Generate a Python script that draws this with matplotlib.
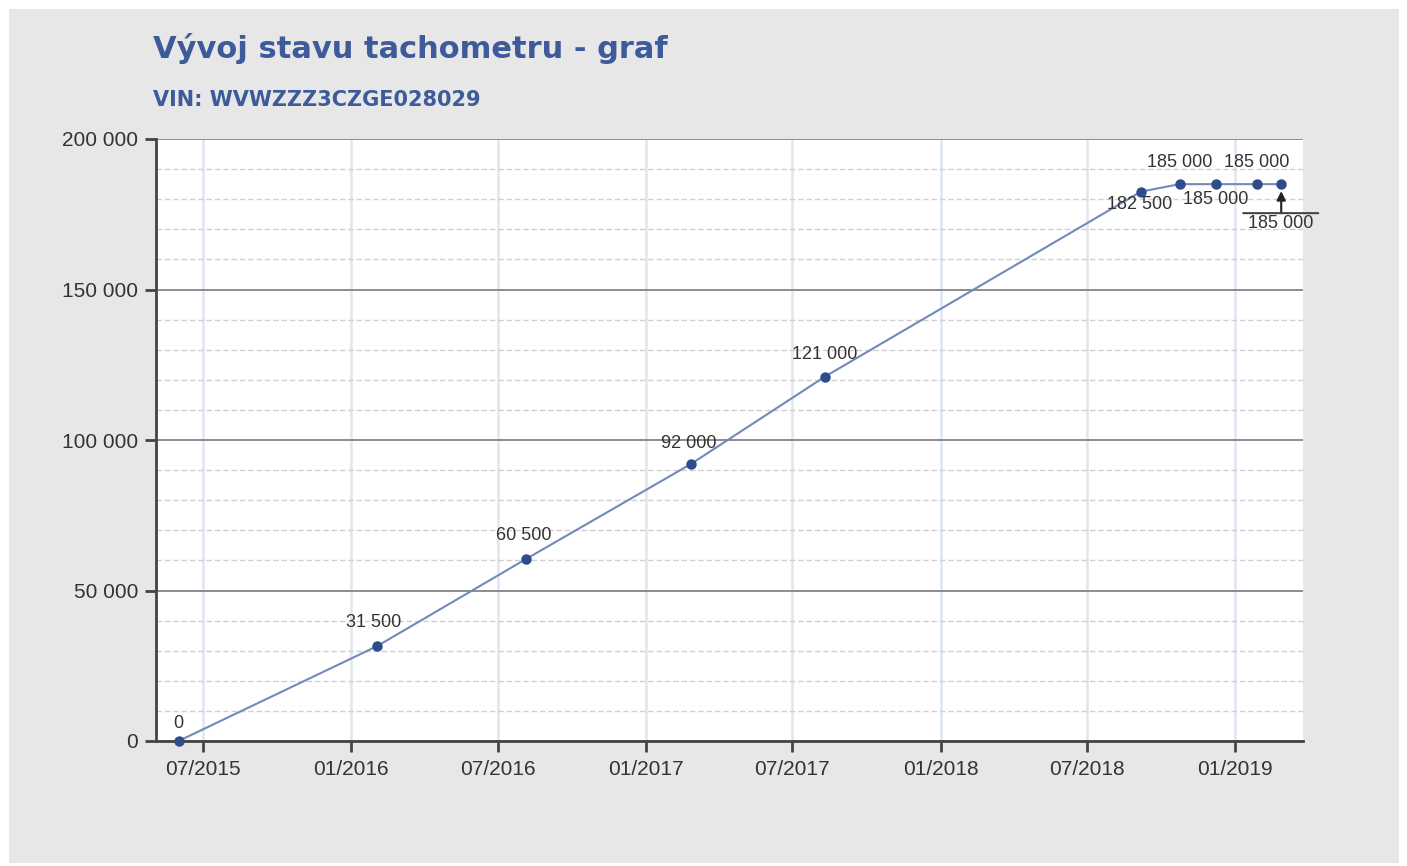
import matplotlib
matplotlib.use("Agg")
import matplotlib.pyplot as plt
import matplotlib.dates as mdates
from matplotlib.patches import Rectangle
from matplotlib.ticker import MultipleLocator, FuncFormatter
from matplotlib.transforms import ScaledTranslation
import datetime as dt

# ---- data ----
dates = ["2015-06-01", "2016-02-02", "2016-08-05", "2017-02-25", "2017-08-10",
         "2018-09-06", "2018-10-24", "2018-12-08", "2019-01-28", "2019-02-27"]
mileage = [0, 31500, 60500, 92000, 121000, 182500, 185000, 185000, 185000, 185000]
title = "Vývoj stavu tachometru - graf"
subtitle = "VIN: WVWZZZ3CZGE028029"
x_start, x_end = "2015-05-04", "2019-03-26"

# label offsets in pixels (dx, dy) relative to each point centre (layout only)
label_offsets = [(0, 17), (-3, 24), (-2, 23), (-2, 21), (0, 22),
                 (-1, -13), (0, 22), (0, -15), (0, 22), None]

def fmt(v):
    return f"{int(v):,}".replace(",", " ")

x = [dt.datetime.strptime(d, "%Y-%m-%d") for d in dates]

W, H, DPI = 1407, 866, 100
fig = plt.figure(figsize=(W / DPI, H / DPI), dpi=DPI, facecolor="white")
fig.patches.append(Rectangle((9 / W, 1 - 863 / H), 1390 / W, 854 / H,
                             transform=fig.transFigure, facecolor="#e6e7e6",
                             edgecolor="none", zorder=-10))

ax = fig.add_axes([156 / W, 1 - 741 / H, (1303 - 156) / W, (741 - 139) / H])
ax.set_facecolor("white")

ax.set_xlim(dt.datetime.strptime(x_start, "%Y-%m-%d"), dt.datetime.strptime(x_end, "%Y-%m-%d"))
ax.set_ylim(0, 200000)

ax.xaxis.set_major_locator(mdates.MonthLocator(bymonth=[1, 7]))
ax.xaxis.set_major_formatter(mdates.DateFormatter("%m/%Y"))
ax.yaxis.set_major_locator(MultipleLocator(50000))
ax.yaxis.set_minor_locator(MultipleLocator(10000))
ax.yaxis.set_major_formatter(FuncFormatter(lambda v, p: fmt(v)))

ax.grid(axis="x", which="major", color="#dfe6f0", lw=1.8, zorder=0)
ax.grid(axis="y", which="major", color="#8c8c8c", lw=1.4, zorder=1)
ax.grid(axis="y", which="minor", color="#d0d0d0", lw=1.0, ls=(0, (4, 2)), zorder=1)
ax.set_axisbelow(True)

for s in ["top", "right"]:
    ax.spines[s].set_visible(False)
for s in ["left", "bottom"]:
    ax.spines[s].set_color("#444444")
    ax.spines[s].set_linewidth(2)
    ax.spines[s].set_zorder(3)

ax.tick_params(axis="both", which="major", direction="out", length=8, width=2,
               color="#444444", labelcolor="#333333", labelsize=15, pad=6)
ax.tick_params(axis="y", which="minor", length=0)
ax.tick_params(axis="y", which="major", pad=5)
for lbl in ax.get_xticklabels() + ax.get_yticklabels():
    lbl.set_fontfamily("Liberation Sans")

ax.plot(x, mileage, color="#7189bb", lw=1.5, zorder=4, clip_on=False)
ax.plot(x, mileage, ls="none", marker="o", ms=6.5, color="#2e4b8b",
        mec="#2e4b8b", zorder=5, clip_on=False)

for xi, v, off in zip(x, mileage, label_offsets):
    if off is None:
        continue
    ax.annotate(fmt(v), xy=(xi, v), xycoords="data", xytext=off,
                textcoords="offset pixels", ha="center", va="center",
                fontsize=13, color="#333333", family="Liberation Sans",
                zorder=6, annotation_clip=False)

# callout for the last point
xl, vl = x[-1], mileage[-1]
ax.annotate(fmt(vl), xy=(xl, vl), xycoords="data", xytext=(-1, -39),
            textcoords="offset pixels", ha="center", va="center",
            fontsize=13, color="#333333", family="Liberation Sans",
            zorder=6, annotation_clip=False)
ax.annotate("", xy=(xl, vl), xycoords="data", xytext=(0, -29),
            textcoords="offset pixels",
            arrowprops=dict(arrowstyle="-|>", color="#222222", lw=1.5,
                            mutation_scale=13, shrinkA=0, shrinkB=5),
            annotation_clip=False, zorder=6)
t_left = ax.transData + ScaledTranslation(-38 / DPI, -29 / DPI, fig.dpi_scale_trans)
t_right = ax.transData + ScaledTranslation(37 / DPI, -29 / DPI, fig.dpi_scale_trans)
ax.annotate("", xy=(mdates.date2num(xl), vl), xycoords=t_right,
            xytext=(mdates.date2num(xl), vl), textcoords=t_left,
            arrowprops=dict(arrowstyle="-", color="#444444", lw=1.5,
                            shrinkA=0, shrinkB=0),
            annotation_clip=False, zorder=6)

fig.text(153 / W, 1 - 58 / H, title, fontsize=22, fontweight="bold",
         color="#3d5a9a", family="DejaVu Sans", ha="left", va="baseline")
fig.text(153 / W, 1 - 106 / H, subtitle, fontsize=15, fontweight="bold",
         color="#3d5a9a", family="DejaVu Sans", ha="left", va="baseline")

fig.savefig("out.png", dpi=DPI, facecolor="white")
